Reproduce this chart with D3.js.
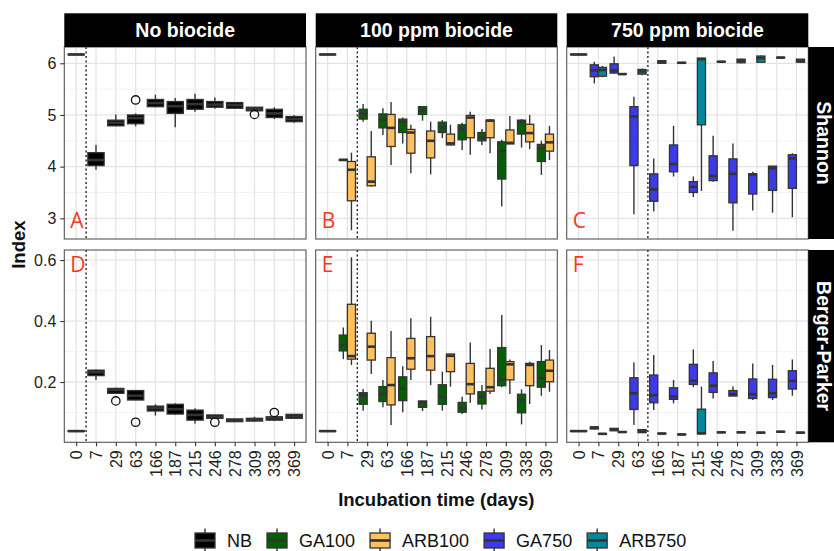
<!DOCTYPE html>
<html>
<head>
<meta charset="utf-8">
<script src="https://cdn.jsdelivr.net/npm/d3@7"></script>
<style>
  body { margin: 0; background: #fff; }
  text { font-family: "Liberation Sans", Arial, sans-serif; }
</style>
</head>
<body>
<script>
// ---- data (boxplot stats: [lower whisker, q1, median, q3, upper whisker]) ----
var times = ['0', '7', '29', '63', '166', '187', '215', '246', '278', '309', '338', '369'];
var laterTimes = times.slice(1);
var columns = ['No biocide', '100 ppm biocide', '750 ppm biocide'];
var indices = ['Shannon', 'Berger-Parker'];
var treatments = ['NB', 'GA100', 'ARB100', 'GA750', 'ARB750'];
var fills = ['#000000', '#056005', '#FFC15E', '#3B3BEB', '#05879A'];
var panelLetters = ['A', 'B', 'C', 'D', 'E', 'F'];
var dividerAfter = ['0', '7', '63'];

var shannonTicks = [3, 4, 5, 6];
var shannonMinor = [3.5, 4.5, 5.5];
var bpTicks = [0.2, 0.4, 0.6];
var bpMinor = [0.1, 0.3, 0.5];

var shannonNB = [
  [6.16, 6.165, 6.17, 6.175, 6.18],
  [3.94, 4.02, 4.13, 4.27, 4.42],
  [4.78, 4.79, 4.85, 4.90, 5.01],
  [4.78, 4.83, 4.94, 5.00, 5.03],
  [5.15, 5.16, 5.23, 5.30, 5.39],
  [4.76, 5.03, 5.17, 5.26, 5.33],
  [5.06, 5.11, 5.21, 5.30, 5.41],
  [5.12, 5.15, 5.20, 5.26, 5.34],
  [5.12, 5.13, 5.19, 5.24, 5.25],
  [5.08, 5.08, 5.12, 5.15, 5.15],
  [4.92, 4.95, 5.03, 5.11, 5.15],
  [4.85, 4.87, 4.92, 4.97, 5.00]
];
var shannonNBOut = [['63', 5.29], ['309', 5.01]];

var shannonGA100 = [
  [4.11, 4.12, 4.13, 4.14, 4.15],
  [4.87, 4.92, 5.03, 5.11, 5.21],
  [4.61, 4.75, 4.90, 5.02, 5.13],
  [4.45, 4.66, 4.87, 4.92, 4.95],
  [4.89, 5.01, 5.08, 5.16, 5.16],
  [4.55, 4.66, 4.76, 4.86, 4.90],
  [4.32, 4.52, 4.73, 4.81, 4.85],
  [4.42, 4.50, 4.56, 4.66, 4.73],
  [3.23, 3.76, 4.30, 4.48, 4.52],
  [4.37, 4.63, 4.87, 4.90, 4.92],
  [3.84, 4.10, 4.35, 4.43, 4.50]
];
var shannonARB100 = [
  [2.77, 3.34, 3.94, 4.10, 4.27],
  [3.61, 3.63, 3.71, 4.19, 4.69],
  [4.03, 4.39, 4.75, 5.01, 5.25],
  [3.87, 4.26, 4.66, 4.72, 4.81],
  [3.85, 4.17, 4.50, 4.69, 4.87],
  [4.41, 4.42, 4.45, 4.63, 4.81],
  [4.23, 4.56, 4.95, 4.99, 5.06],
  [4.26, 4.56, 4.89, 4.90, 4.92],
  [4.44, 4.44, 4.46, 4.71, 4.98],
  [4.34, 4.48, 4.65, 4.82, 5.00],
  [4.13, 4.30, 4.47, 4.63, 4.79]
];
var shannonGA750 = [
  [5.61, 5.74, 5.86, 5.97, 6.03],
  [5.81, 5.81, 5.86, 5.99, 6.13],
  [3.08, 4.02, 4.97, 5.16, 5.35],
  [3.13, 3.33, 3.56, 3.86, 4.16],
  [3.81, 3.90, 4.05, 4.42, 4.79],
  [3.41, 3.50, 3.61, 3.71, 3.81],
  [3.71, 3.73, 3.82, 4.21, 4.60],
  [2.76, 3.30, 3.86, 4.15, 4.45],
  [3.15, 3.47, 3.85, 3.86, 3.90],
  [3.11, 3.54, 3.97, 4.01, 4.01],
  [3.02, 3.58, 4.16, 4.23, 4.26]
];
var shannonARB750 = [
  [5.73, 5.75, 5.87, 5.92, 5.95],
  [5.79, 5.79, 5.79, 5.80, 5.80],
  [5.77, 5.79, 5.84, 5.88, 5.90],
  [6.00, 6.00, 6.03, 6.05, 6.05],
  [6.00, 6.005, 6.01, 6.015, 6.02],
  [3.53, 4.81, 6.08, 6.10, 6.10],
  [6.02, 6.025, 6.03, 6.035, 6.04],
  [6.00, 6.01, 6.05, 6.08, 6.09],
  [6.02, 6.02, 6.10, 6.14, 6.15],
  [6.10, 6.105, 6.11, 6.115, 6.12],
  [6.01, 6.02, 6.05, 6.08, 6.08]
];

var bpNB = [
  [0.037, 0.038, 0.039, 0.040, 0.041],
  [0.207, 0.221, 0.232, 0.239, 0.241],
  [0.163, 0.163, 0.174, 0.179, 0.181],
  [0.141, 0.141, 0.155, 0.172, 0.174],
  [0.090, 0.105, 0.114, 0.121, 0.127],
  [0.093, 0.095, 0.111, 0.127, 0.130],
  [0.064, 0.075, 0.092, 0.108, 0.114],
  [0.081, 0.081, 0.086, 0.092, 0.093],
  [0.069, 0.070, 0.074, 0.079, 0.080],
  [0.071, 0.072, 0.076, 0.081, 0.086],
  [0.072, 0.075, 0.081, 0.086, 0.088],
  [0.080, 0.081, 0.087, 0.094, 0.095]
];
var bpNBOut = [['29', 0.138], ['63', 0.068], ['246', 0.068], ['338', 0.100]];

var bpGA100 = [
  [0.275, 0.302, 0.321, 0.354, 0.379],
  [0.106, 0.127, 0.155, 0.165, 0.177],
  [0.117, 0.136, 0.161, 0.185, 0.207],
  [0.101, 0.139, 0.179, 0.217, 0.252],
  [0.105, 0.117, 0.132, 0.138, 0.138],
  [0.106, 0.127, 0.152, 0.191, 0.234],
  [0.095, 0.101, 0.114, 0.133, 0.152],
  [0.110, 0.128, 0.152, 0.168, 0.190],
  [0.183, 0.188, 0.207, 0.313, 0.420],
  [0.061, 0.099, 0.141, 0.160, 0.176],
  [0.155, 0.183, 0.212, 0.267, 0.321]
];
var bpARB100 = [
  [0.256, 0.275, 0.285, 0.455, 0.609],
  [0.226, 0.272, 0.316, 0.360, 0.401],
  [0.059, 0.125, 0.190, 0.280, 0.367],
  [0.207, 0.242, 0.278, 0.343, 0.409],
  [0.190, 0.239, 0.285, 0.349, 0.414],
  [0.185, 0.234, 0.286, 0.292, 0.292],
  [0.132, 0.161, 0.193, 0.261, 0.330],
  [0.161, 0.170, 0.183, 0.245, 0.308],
  [0.161, 0.207, 0.258, 0.267, 0.274],
  [0.128, 0.188, 0.256, 0.261, 0.267],
  [0.168, 0.201, 0.237, 0.272, 0.305]
];
var bpGA750 = [
  [0.044, 0.046, 0.050, 0.053, 0.055],
  [0.039, 0.040, 0.045, 0.048, 0.049],
  [0.059, 0.110, 0.163, 0.214, 0.264],
  [0.108, 0.132, 0.157, 0.223, 0.289],
  [0.130, 0.143, 0.152, 0.181, 0.207],
  [0.183, 0.192, 0.204, 0.258, 0.307],
  [0.146, 0.166, 0.188, 0.230, 0.269],
  [0.154, 0.154, 0.160, 0.172, 0.185],
  [0.141, 0.146, 0.160, 0.210, 0.261],
  [0.141, 0.149, 0.163, 0.209, 0.256],
  [0.155, 0.177, 0.204, 0.237, 0.274]
];
var bpARB750 = [
  [0.029, 0.029, 0.030, 0.031, 0.031],
  [0.035, 0.035, 0.036, 0.037, 0.037],
  [0.033, 0.034, 0.038, 0.044, 0.045],
  [0.030, 0.030, 0.031, 0.032, 0.032],
  [0.027, 0.027, 0.028, 0.029, 0.029],
  [0.030, 0.030, 0.032, 0.111, 0.185],
  [0.034, 0.034, 0.035, 0.036, 0.036],
  [0.034, 0.034, 0.035, 0.036, 0.036],
  [0.033, 0.033, 0.034, 0.035, 0.035],
  [0.036, 0.036, 0.037, 0.038, 0.038],
  [0.033, 0.033, 0.034, 0.035, 0.035]
];

// ---- layout ----
var W = 834, H = 551;
var colX = [[64.3, 306], [315.7, 557.3], [566.7, 808.3]];
var rowY = [[47, 239], [250, 442.3]];
var stripTop = 13.3;
var stripRight = 842;
var ink = '#333333';

var rows = [
  { domain: [2.6, 6.315], ticks: shannonTicks, minor: shannonMinor, fmt: d3.format('d'),
    nb: shannonNB, out: shannonNBOut,
    series: { GA100: shannonGA100, ARB100: shannonARB100, GA750: shannonGA750, ARB750: shannonARB750 } },
  { domain: [0.0023, 0.633], ticks: bpTicks, minor: bpMinor, fmt: d3.format('.1f'),
    nb: bpNB, out: bpNBOut,
    series: { GA100: bpGA100, ARB100: bpARB100, GA750: bpGA750, ARB750: bpARB750 } }
];

var color = d3.scaleOrdinal().domain(treatments).range(fills);

var svg = d3.select('body').append('svg')
    .attr('width', W)
    .attr('height', H);

svg.append('rect').attr('width', W).attr('height', H).attr('fill', '#fff');

function panelSeries(r, c) {
    var row = rows[r];
    if (c === 0) {
        return [{ key: 'NB', times: times, stats: row.nb, pos: 0, n: 1 }];
    }
    var pair = c === 1 ? ['GA100', 'ARB100'] : ['GA750', 'ARB750'];
    return [
        { key: 'NB', times: ['0'], stats: [row.nb[0]], pos: 0, n: 1 },
        { key: pair[0], times: laterTimes, stats: row.series[pair[0]], pos: 0, n: 2 },
        { key: pair[1], times: laterTimes, stats: row.series[pair[1]], pos: 1, n: 2 }
    ];
}

rows.forEach(function(row, r){
    columns.forEach(function(colName, c){
        var x = d3.scalePoint().domain(times).range(colX[c]).padding(0.6);
        var y = d3.scaleLinear().domain(row.domain).range([rowY[r][1], rowY[r][0]]);
        var x0 = colX[c][0], x1 = colX[c][1], y0 = rowY[r][0], y1 = rowY[r][1];
        var g = svg.append('g');

        // grid
        g.selectAll('.minor').data(row.minor).enter().append('line')
            .attr('x1', x0).attr('x2', x1)
            .attr('y1', function(d){ return y(d); })
            .attr('y2', function(d){ return y(d); })
            .attr('stroke', '#f0f0f0').attr('stroke-width', 0.8);
        g.selectAll('.major').data(row.ticks).enter().append('line')
            .attr('x1', x0).attr('x2', x1)
            .attr('y1', function(d){ return y(d); })
            .attr('y2', function(d){ return y(d); })
            .attr('stroke', '#e4e4e4').attr('stroke-width', 1.3);
        g.selectAll('.vgrid').data(times).enter().append('line')
            .attr('x1', function(d){ return x(d); })
            .attr('x2', function(d){ return x(d); })
            .attr('y1', y0).attr('y2', y1)
            .attr('stroke', '#e4e4e4').attr('stroke-width', 1.3);

        // dotted divider
        var dv = x(dividerAfter[c]) + x.step() / 2;
        g.append('line')
            .attr('x1', dv).attr('x2', dv)
            .attr('y1', y0).attr('y2', y1)
            .attr('stroke', '#111').attr('stroke-width', 1.3)
            .attr('stroke-dasharray', '2,2.5');

        // boxes
        var total = x.step() * 0.82;
        panelSeries(r, c).forEach(function(s){
            var bw = total / s.n;
            var cx = function(t){ return x(t) - total / 2 + (s.pos + 0.5) * bw; };
            var items = s.stats.map(function(st, i){ return { t: s.times[i], st: st }; });
            var bg = g.append('g');
            bg.selectAll('line.whisker').data(items).enter().append('line')
                .attr('x1', function(d){ return cx(d.t); })
                .attr('x2', function(d){ return cx(d.t); })
                .attr('y1', function(d){ return y(d.st[0]); })
                .attr('y2', function(d){ return y(d.st[4]); })
                .attr('stroke', ink).attr('stroke-width', 1.4);
            bg.selectAll('rect').data(items).enter().append('rect')
                .attr('x', function(d){ return cx(d.t) - bw / 2; })
                .attr('width', bw)
                .attr('y', function(d){ return y(d.st[3]); })
                .attr('height', function(d){ return Math.max(0.5, y(d.st[1]) - y(d.st[3])); })
                .attr('fill', color(s.key))
                .attr('stroke', ink).attr('stroke-width', 1.3);
            bg.selectAll('line.median').data(items).enter().append('line')
                .attr('x1', function(d){ return cx(d.t) - bw / 2; })
                .attr('x2', function(d){ return cx(d.t) + bw / 2; })
                .attr('y1', function(d){ return y(d.st[2]); })
                .attr('y2', function(d){ return y(d.st[2]); })
                .attr('stroke', ink).attr('stroke-width', 2.6);
            if (s.key === 'NB' && c === 0) {
                bg.selectAll('circle').data(row.out).enter().append('circle')
                    .attr('cx', function(d){ return cx(d[0]); })
                    .attr('cy', function(d){ return y(d[1]); })
                    .attr('r', 4.2)
                    .attr('fill', 'none')
                    .attr('stroke', '#111').attr('stroke-width', 1.3);
            }
        });

        // border
        g.append('rect')
            .attr('x', x0).attr('y', y0)
            .attr('width', x1 - x0).attr('height', y1 - y0)
            .attr('fill', 'none').attr('stroke', '#555').attr('stroke-width', 1.1);

        // panel letter
        g.append('text')
            .attr('x', x0 + 6)
            .attr('y', r === 0 ? y1 - 11 : y0 + 22)
            .style('font-family', '"Open Sans", sans-serif')
            .style('font-size', '21px')
            .attr('fill', '#F23A1D')
            .text(panelLetters[r * 3 + c]);

        // axes
        if (c === 0) {
            var ya = g.append('g')
                .attr('transform', 'translate(' + x0 + ',0)')
                .call(d3.axisLeft(y).tickValues(row.ticks).tickFormat(row.fmt).tickSize(4).tickPadding(4));
            ya.select('.domain').remove();
            ya.selectAll('line').attr('stroke', ink).attr('stroke-width', 1.1);
            ya.selectAll('text').style('font-size', '16px').attr('fill', '#222');
        }
        if (r === 1) {
            var xa = g.append('g')
                .attr('transform', 'translate(0,' + y1 + ')')
                .call(d3.axisBottom(x).tickSize(4));
            xa.select('.domain').remove();
            xa.selectAll('line').attr('stroke', ink).attr('stroke-width', 1.1);
            xa.selectAll('text')
                .style('font-size', '16px').attr('fill', '#222')
                .attr('transform', 'rotate(-90)')
                .attr('x', -8).attr('y', 0).attr('dy', '0.35em')
                .attr('text-anchor', 'end');
        }

        // top strip
        if (r === 0) {
            svg.append('rect')
                .attr('x', x0).attr('y', stripTop)
                .attr('width', x1 - x0).attr('height', y0 - stripTop)
                .attr('fill', '#000');
            svg.append('text')
                .attr('x', (x0 + x1) / 2).attr('y', (stripTop + y0) / 2)
                .attr('text-anchor', 'middle').attr('dominant-baseline', 'central')
                .style('font-size', '19.5px').style('font-weight', 'bold')
                .attr('fill', '#fff')
                .text(colName);
        }
    });

    // right strip
    var ry0 = rowY[r][0], ry1 = rowY[r][1];
    svg.append('rect')
        .attr('x', colX[2][1]).attr('y', ry0)
        .attr('width', stripRight - colX[2][1]).attr('height', ry1 - ry0)
        .attr('fill', '#000');
    svg.append('text')
        .attr('transform', 'translate(' + 823.5 + ',' + (ry0 + ry1) / 2 + ') rotate(90)')
        .attr('text-anchor', 'middle').attr('dominant-baseline', 'central')
        .style('font-size', '19.5px').style('font-weight', 'bold')
        .attr('fill', '#fff')
        .text(indices[r]);
});

// axis titles
svg.append('text')
    .attr('x', (colX[0][0] + colX[2][1]) / 2).attr('y', 506)
    .attr('text-anchor', 'middle')
    .style('font-size', '18.5px').style('font-weight', 'bold')
    .attr('fill', '#111')
    .text('Incubation time (days)');
svg.append('text')
    .attr('transform', 'translate(25,' + (rowY[0][0] + rowY[1][1]) / 2 + ') rotate(-90)')
    .attr('text-anchor', 'middle')
    .style('font-size', '18.5px').style('font-weight', 'bold')
    .attr('fill', '#111')
    .text('Index');

// legend
var legend = svg.append('g').attr('transform', 'translate(195,540.5)');
var lx = 0;
treatments.forEach(function(t){
    var item = legend.append('g').attr('transform', 'translate(' + lx + ',0)');
    item.append('line')
        .attr('x1', 10).attr('x2', 10).attr('y1', -12).attr('y2', 12)
        .attr('stroke', ink).attr('stroke-width', 1.4);
    item.append('rect')
        .attr('x', 0).attr('y', -7.5).attr('width', 20).attr('height', 15)
        .attr('fill', color(t)).attr('stroke', ink).attr('stroke-width', 1.3);
    item.append('line')
        .attr('x1', 0).attr('x2', 20).attr('y1', 0).attr('y2', 0)
        .attr('stroke', ink).attr('stroke-width', 2.6);
    var txt = item.append('text')
        .attr('x', 32).attr('y', 0).attr('dy', '0.35em')
        .style('font-size', '18px')
        .attr('fill', '#111')
        .text(t);
    lx += 32 + txt.node().getComputedTextLength() + 15;
});
</script>
</body>
</html>
